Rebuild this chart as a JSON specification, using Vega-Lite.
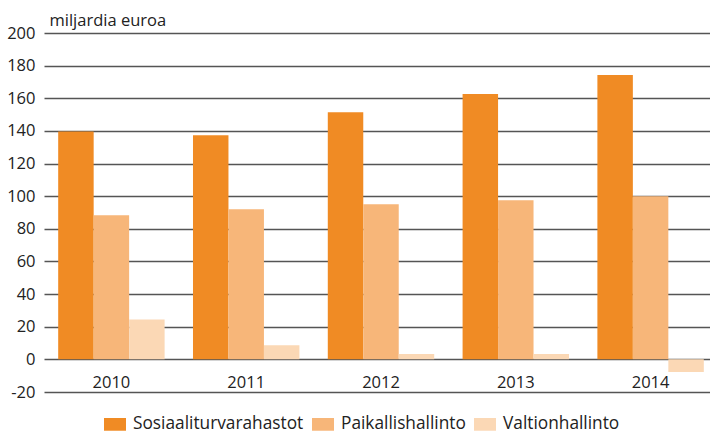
{
  "$schema": "https://vega.github.io/schema/vega-lite/v6.json",
  "width": 666,
  "height": 359,
  "autosize": {"type": "none"},
  "padding": {"left": 44, "top": 33, "right": 0, "bottom": 42},
  "background": "white",
  "config": {
    "font": "Open Sans",
    "view": {"stroke": null}
  },
  "data": {
    "values": [
      {"vuosi": "2010", "sektori": "Sosiaaliturvarahastot", "arvo": 139.7},
      {"vuosi": "2010", "sektori": "Paikallishallinto", "arvo": 88.3},
      {"vuosi": "2010", "sektori": "Valtionhallinto", "arvo": 24.5},
      {"vuosi": "2011", "sektori": "Sosiaaliturvarahastot", "arvo": 137.4},
      {"vuosi": "2011", "sektori": "Paikallishallinto", "arvo": 92.0},
      {"vuosi": "2011", "sektori": "Valtionhallinto", "arvo": 8.6},
      {"vuosi": "2012", "sektori": "Sosiaaliturvarahastot", "arvo": 151.5},
      {"vuosi": "2012", "sektori": "Paikallishallinto", "arvo": 95.0},
      {"vuosi": "2012", "sektori": "Valtionhallinto", "arvo": 3.3},
      {"vuosi": "2013", "sektori": "Sosiaaliturvarahastot", "arvo": 162.6},
      {"vuosi": "2013", "sektori": "Paikallishallinto", "arvo": 97.5},
      {"vuosi": "2013", "sektori": "Valtionhallinto", "arvo": 3.3},
      {"vuosi": "2014", "sektori": "Sosiaaliturvarahastot", "arvo": 174.2},
      {"vuosi": "2014", "sektori": "Paikallishallinto", "arvo": 100.0},
      {"vuosi": "2014", "sektori": "Valtionhallinto", "arvo": -7.8}
    ]
  },
  "mark": {"type": "bar"},
  "encoding": {
    "x": {
      "field": "vuosi",
      "type": "nominal",
      "scale": {"paddingInner": 0, "paddingOuter": 0, "range": [0, 674]},
      "axis": {
        "title": null,
        "labelAngle": 0,
        "ticks": false,
        "domain": false,
        "labelPadding": -18,
        "labelFontSize": 16.5,
        "labelColor": "#222222",
        "labelFont": "Open Sans"
      }
    },
    "xOffset": {
      "field": "sektori",
      "type": "nominal",
      "sort": ["Sosiaaliturvarahastot", "Paikallishallinto", "Valtionhallinto"],
      "scale": {"paddingInner": 0, "paddingOuter": 0.4}
    },
    "y": {
      "field": "arvo",
      "type": "quantitative",
      "scale": {"domain": [-20, 200], "nice": false},
      "axis": {
        "values": [-20, 0, 20, 40, 60, 80, 100, 120, 140, 160, 180, 200],
        "labelExpr": "datum.value < 0 ? '-' + abs(datum.value) : datum.label",
        "title": "miljardia euroa",
        "titleAngle": 0,
        "titleX": 5,
        "titleY": -8,
        "titleAlign": "left",
        "titleBaseline": "alphabetic",
        "titleFontSize": 16.5,
        "titleFontWeight": "normal",
        "titleColor": "#222222",
        "titleFont": "Open Sans",
        "ticks": false,
        "domain": false,
        "labelPadding": 9,
        "labelFontSize": 16.5,
        "labelColor": "#222222",
        "labelFont": "Open Sans",
        "grid": true,
        "gridColor": "#555555",
        "gridWidth": 1.6,
        "gridOpacity": 1
      }
    },
    "color": {
      "field": "sektori",
      "type": "nominal",
      "sort": ["Sosiaaliturvarahastot", "Paikallishallinto", "Valtionhallinto"],
      "scale": {
        "domain": ["Sosiaaliturvarahastot", "Paikallishallinto", "Valtionhallinto"],
        "range": ["#F08B24", "#F7B679", "#FBD8B5"]
      },
      "legend": {
        "title": null,
        "orient": "none",
        "direction": "horizontal",
        "legendX": 60,
        "legendY": 380,
        "symbolType": "M-1,-0.58H1V0.58H-1Z",
        "symbolSize": 484,
        "symbolStrokeWidth": 0,
        "labelFontSize": 17.3,
        "labelLimit": 400,
        "labelColor": "#222222",
        "labelFont": "Open Sans",
        "labelOffset": 7,
        "columnPadding": 8
      }
    }
  }
}
